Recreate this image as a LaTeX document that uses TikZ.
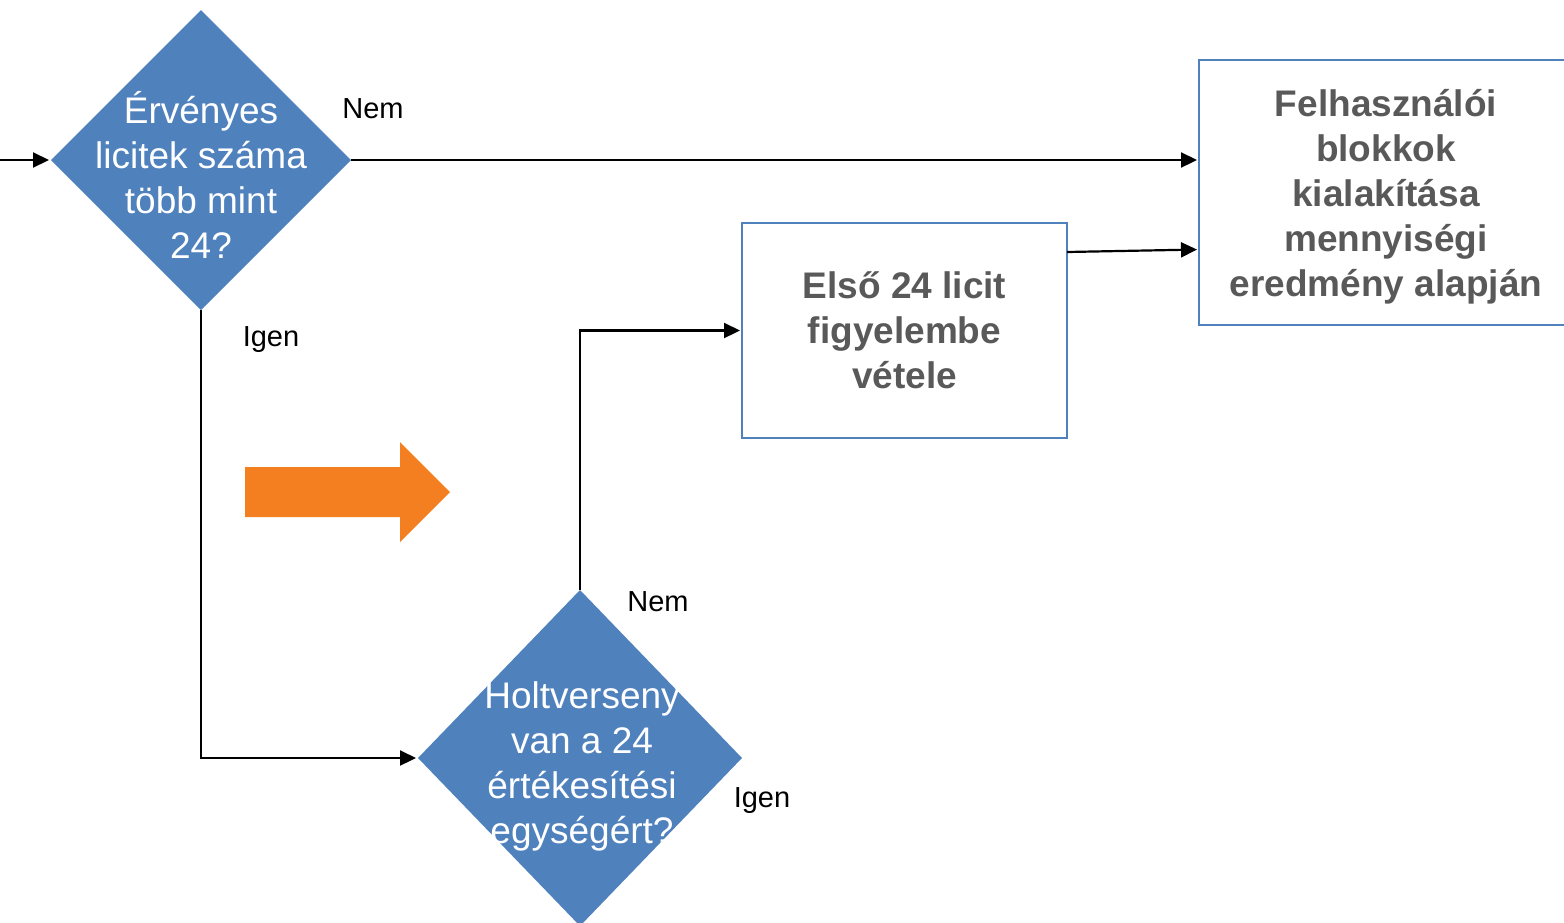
\documentclass[tikz,border=0pt]{standalone}
\usepackage{fontspec}
\setmainfont{Liberation Sans}
\usepackage{xcolor}
\usepackage{tikz}
\usetikzlibrary{shapes.geometric,arrows.meta,positioning,calc}

\definecolor{decblue}{HTML}{4F81BD}
\definecolor{boxtext}{HTML}{595959}
\definecolor{hintorange}{HTML}{F47F20}

\begin{document}
\begin{tikzpicture}[x=1pt, y=-1pt, >={Triangle[length=16pt,width=15pt]}]
    % Define styles
    \tikzstyle{decision} = [diamond, fill=decblue, draw=none, inner sep=0pt, outer sep=0pt, minimum width=300pt, minimum height=300pt]
    \tikzstyle{qtext} = [text=white, align=center, font=\fontsize{37}{45}\selectfont]
    \tikzstyle{process} = [rectangle, draw=decblue, line width=2pt, outer sep=0pt, text=boxtext, align=center, font=\bfseries\fontsize{37}{45}\selectfont]
    \tikzstyle{answer} = [font=\fontsize{29}{34}\selectfont]
    \tikzstyle{line} = [draw, line width=2.2pt, ->, shorten >=2pt]

    \useasboundingbox (0,0) rectangle (1564,922);

    % Nodes
    \coordinate (entry) at (0,160);
    \node[decision] (valid) at (201,160) {};
    \node[qtext] (valid_text) at (201,175) {Érvényes\\licitek száma\\több mint\\24?};
    \node[decision, minimum width=324pt, minimum height=336pt] (tie) at (580,758) {};
    \node[qtext] (tie_text) at (582,766) {Holtverseny\\van a 24\\értékesítési\\egységért?};
    \node[process, anchor=north west, minimum width=325pt, minimum height=215pt] (first) at (742,223) {Első 24 licit\\figyelembe\\vétele};
    \node[process, anchor=north west, minimum width=374pt, minimum height=265pt] (result) at (1199,60) {};
    \node[text=boxtext, align=center, font=\bfseries\fontsize{37}{45}\selectfont] (result_text) at ($(result.center)+(0,4)$) {Felhasználói\\blokkok\\kialakítása\\mennyiségi\\eredmény alapján};

    % Labels
    \node[answer] (valid_no) at (373,109) {Nem};
    \node[answer] (valid_yes) at (271,340) {Igen};
    \node[answer] (tie_no) at (658,602) {Nem};
    \node[answer] (tie_yes) at (762,801) {Igen};

    % Connections
    \draw[line] (entry) -- (valid.west);
    \draw[line] (valid.east) -- (valid.east -| result.west);
    \draw[line] ([yshift=-29pt]first.north east) -- ([yshift=-57pt]result.west);
    \draw[line] (valid.south) |- (tie.west);
    \draw[line] (tie.north) |- (first.west);

    % Hint arrow
    \fill[hintorange] (245,467) -- (400,467) -- (400,442) -- (450,492) -- (400,542) -- (400,517) -- (245,517) -- cycle;
\end{tikzpicture}
\end{document}
